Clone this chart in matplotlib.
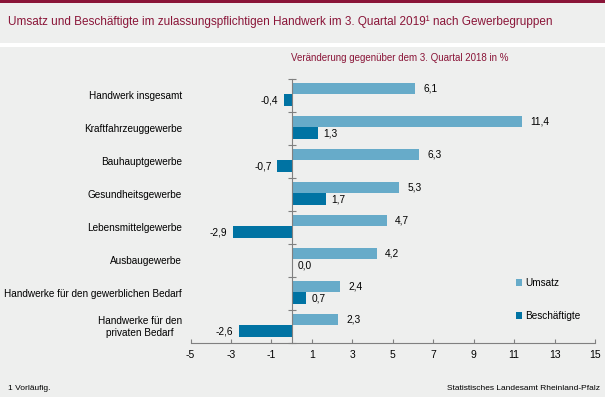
import matplotlib
matplotlib.use("Agg")
import matplotlib.pyplot as plt
import matplotlib.transforms as mtransforms
from matplotlib.patches import Rectangle

plt.rcParams['font.family'] = ['Liberation Sans', 'DejaVu Sans']

# Daten
gruppen = ["Handwerk insgesamt", "Kraftfahrzeuggewerbe", "Bauhauptgewerbe",
           "Gesundheitsgewerbe", "Lebensmittelgewerbe", "Ausbaugewerbe",
           "Handwerke für den gewerblichen Bedarf", "Handwerke für den\nprivaten Bedarf"]
umsatz = [6.1, 11.4, 6.3, 5.3, 4.7, 4.2, 2.4, 2.3]
beschaeftigte = [-0.4, 1.3, -0.7, 1.7, -2.9, 0.0, 0.7, -2.6]
xticks = [-5, -3, -1, 1, 3, 5, 7, 9, 11, 13, 15]

c_umsatz = '#67abc9'
c_besch = '#0073a3'
c_rot = '#8a1538'
bg = '#eeefee'

fig = plt.figure(figsize=(6.05, 3.97), dpi=100)
fig.patch.set_facecolor(bg)

# Kopfzeile: roter Strich oben, weisse Trennlinie unter dem Titel
fig.patches.append(Rectangle((0, 1 - 2.5 / 397), 1, 2.5 / 397, transform=fig.transFigure,
                             facecolor=c_rot, edgecolor='none'))
fig.patches.append(Rectangle((0, 1 - 47 / 397), 1, 3.5 / 397, transform=fig.transFigure,
                             facecolor='white', edgecolor='none'))

fig.text(8 / 605, 1 - 22 / 397,
         "Umsatz und Beschäftigte im zulassungspflichtigen Handwerk im 3. Quartal 2019¹ nach Gewerbegruppen",
         color=c_rot, fontsize=8.5, va='center', ha='left')
fig.text(400 / 605, 1 - 58 / 397, "Veränderung gegenüber dem 3. Quartal 2018 in %",
         color=c_rot, fontsize=7, va='center', ha='center')

ax = fig.add_axes([190.5 / 605, 1 - 343.3 / 397, 404.5 / 605, 264 / 397])
ax.set_facecolor(bg)

y = list(range(len(gruppen)))
h = 0.36
ax.barh([i - 0.22 for i in y], umsatz, height=h, color=c_umsatz, label='Umsatz', zorder=2)
ax.barh([i + 0.14 for i in y], beschaeftigte, height=h, color=c_besch, label='Beschäftigte', zorder=2)

ax.set_xlim(-5, 15)
ax.set_ylim(len(gruppen) - 0.5, -0.5)

def fmt(v):
    return f"{v:.1f}".replace('.', ',')

for i, v in enumerate(umsatz):
    ax.annotate(fmt(v), (v, i - 0.22), xytext=(6, 0), textcoords='offset points',
                ha='left', va='center', fontsize=7.3)
for i, v in enumerate(beschaeftigte):
    if v < 0:
        ax.annotate(fmt(v), (v, i + 0.14), xytext=(-4, 0), textcoords='offset points',
                    ha='right', va='center', fontsize=7.3)
    else:
        ax.annotate(fmt(v), (v, i + 0.14), xytext=(4, 0), textcoords='offset points',
                    ha='left', va='center', fontsize=7.3)

# Kategorienbeschriftung links
trans = mtransforms.blended_transform_factory(fig.transFigure, ax.transData)
for i, g in enumerate(gruppen):
    ax.text(182 / 605, i, g, transform=trans, ha='right', va='center',
            fontsize=7.2, multialignment='center')

# Achsen
for s in ['top', 'right']:
    ax.spines[s].set_visible(False)
ax.spines['left'].set_position(('data', 0))
ax.spines['left'].set_color('#808080')
ax.spines['bottom'].set_color('#808080')
ax.set_yticks([i - 0.5 for i in range(len(gruppen) + 1)])
ax.set_yticklabels([])
ax.tick_params(axis='y', direction='inout', length=6, color='#808080')
ax.set_xticks(xticks)
ax.set_xticklabels([str(t) for t in xticks], fontsize=7.5)
ax.tick_params(axis='x', direction='in', length=3, color='#808080', pad=5)

# Legende
fig.legend(loc='upper left', bbox_to_anchor=(512 / 605, 1 - 274 / 397), frameon=False,
           fontsize=7.2, handlelength=0.6, handleheight=0.6, handletextpad=0.3,
           labelspacing=2.3, borderaxespad=0)

fig.text(8 / 605, 1 - 388 / 397, "1 Vorläufig.", fontsize=6, va='center', ha='left')
fig.text(600 / 605, 1 - 388 / 397, "Statistisches Landesamt Rheinland-Pfalz", fontsize=6,
         va='center', ha='right')

fig.savefig('out.png', dpi=100, facecolor=fig.get_facecolor())
